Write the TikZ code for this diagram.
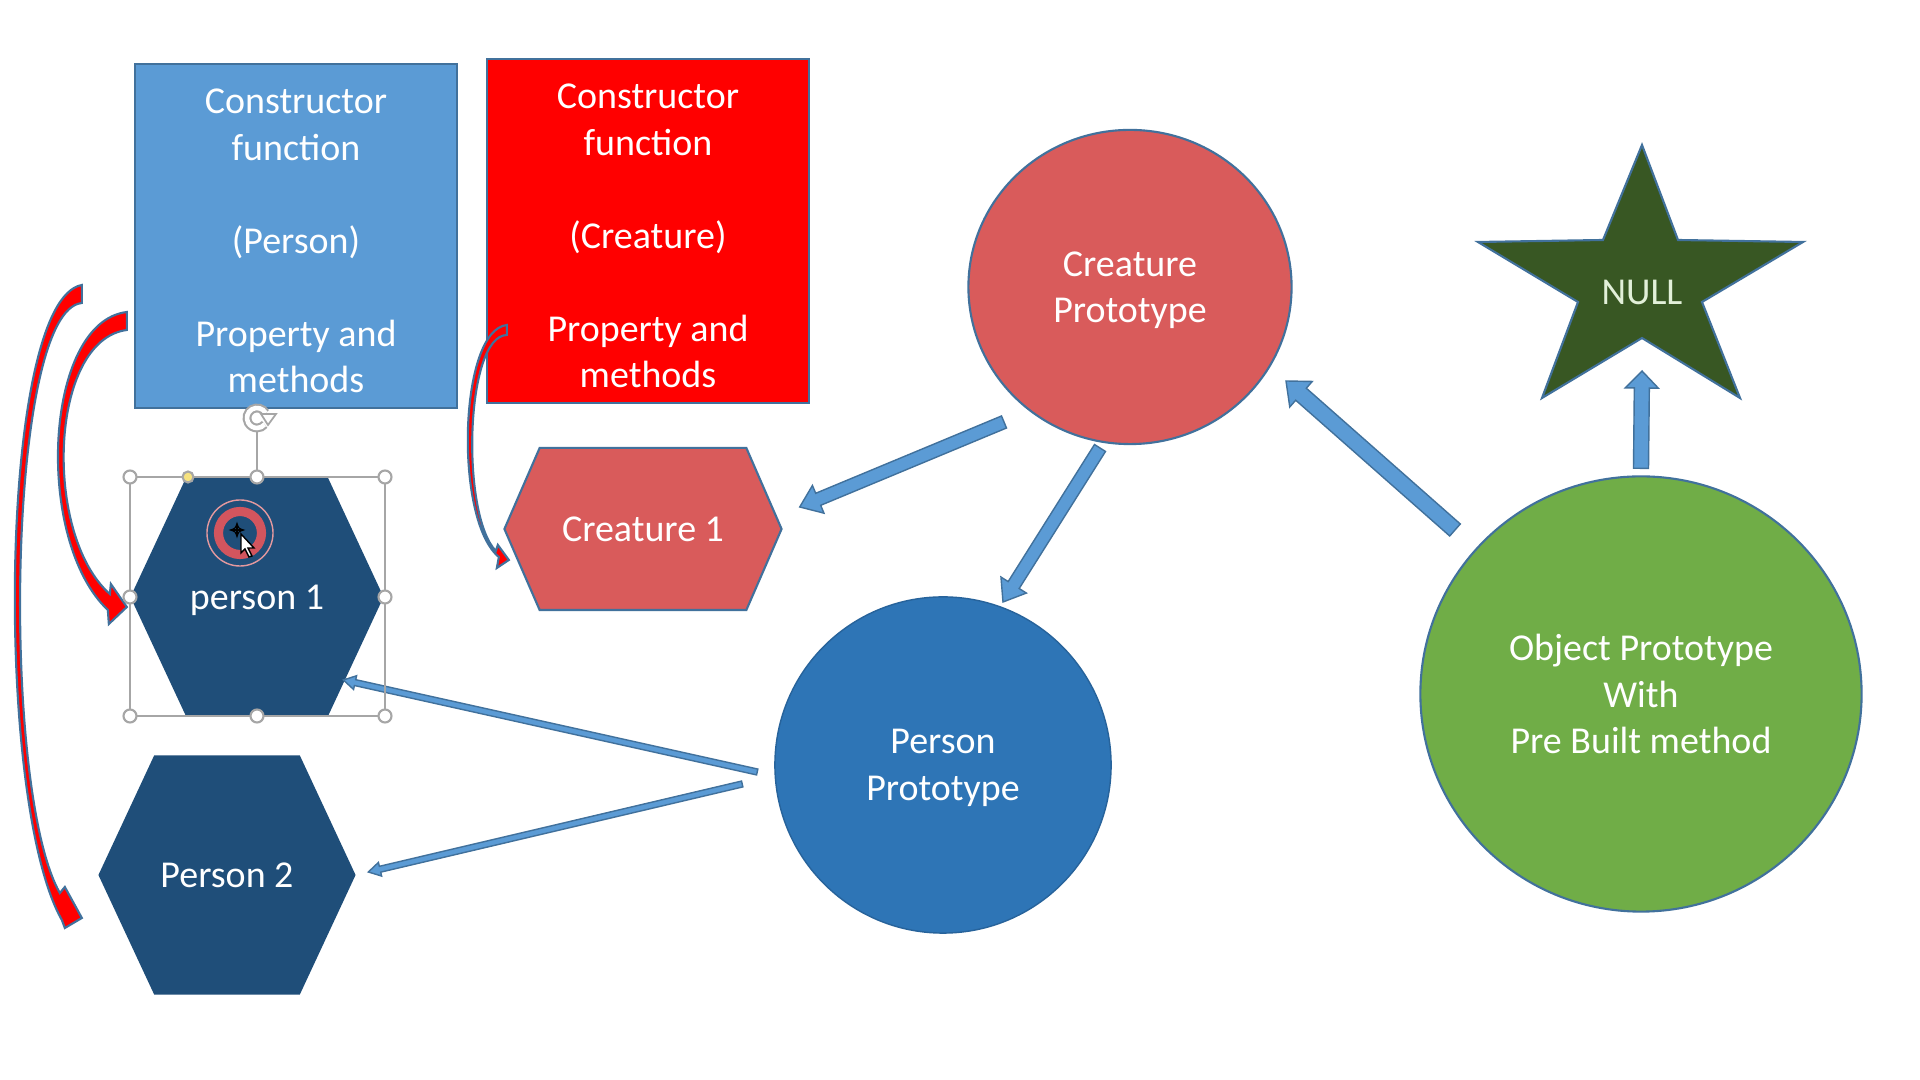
\documentclass[tikz,border=0pt]{standalone}
\usepackage{fontspec}
\setmainfont{Carlito}
\usetikzlibrary{arrows.meta,calc,shapes.geometric,shapes.symbols}
\definecolor{pptblue}{HTML}{5B9BD5}
\definecolor{pptline}{HTML}{41719C}
\definecolor{pptred}{HTML}{FF0000}
\definecolor{rosered}{HTML}{D95B5B}
\definecolor{navy}{HTML}{1F4E79}
\definecolor{midblue}{HTML}{2E75B6}
\definecolor{leafgreen}{HTML}{70AD47}
\definecolor{darkgreen}{HTML}{385723}
\definecolor{nulltext}{HTML}{E2F0D9}
\definecolor{handlegray}{HTML}{A6A6A6}
\definecolor{handleyellow}{HTML}{F6E27F}
\definecolor{ringred}{HTML}{D2555E}

% flat block arrow: from, to, half shaft, half head, head length
\newcommand{\blockarrow}[5]{%
  \coordinate (ba-base) at ($(#2)!#5!(#1)$);
  \draw[blockarrow] ($(#1)!#3!90:(#2)$) -- ($(ba-base)!#3!-90:(#1)$)
    -- ($(ba-base)!#4!-90:(#1)$) -- (#2) -- ($(ba-base)!#4!90:(#1)$)
    -- ($(ba-base)!#3!90:(#1)$) -- ($(#1)!#3!-90:(#2)$) -- cycle;
}
\newcommand{\topstrut}{\rule{0pt}{9.8pt}}

\begin{document}
\begin{tikzpicture}[x=0.01cm,y=-0.01cm,
  every node/.style={font=\fontsize{10.8}{13.2}\selectfont,text=white,align=center,
    inner sep=0pt,text depth=0pt},
  fnbox/.style={rectangle,draw=pptline,line width=0.6pt,minimum width=3.22cm,
    minimum height=3.43cm},
  hexbox/.style={signal,signal to=west and east,signal pointer angle=130},
  blockarrow/.style={draw=pptline,fill=pptblue,line width=0.4pt},
  redarrow/.style={draw=pptline,fill=pptred,line width=0.6pt},
  handle/.style={draw=handlegray,fill=white,line width=0.6pt},
  handleline/.style={draw=handlegray,line width=0.4pt}
]
\fill[white] (0,0) rectangle (1920,1080);
\useasboundingbox (0,0) rectangle (1920,1080);

\node[fnbox,fill=pptblue] (personfn) at (296,236)
  {\topstrut Constructor\\function\\[13.2pt](Person)\\[13.2pt]Property and\\methods};
\node[fnbox,fill=pptred] (creaturefn) at (648,231)
  {\topstrut Constructor\\function\\[13.2pt](Creature)\\[13.2pt]Property and\\methods};
\node[ellipse,draw=pptline,line width=0.6pt,fill=rosered,minimum width=3.23cm,
  minimum height=3.14cm] (creatureproto) at (1130,287) {Creature\\Prototype};
\node[hexbox,signal pointer angle=133,draw=pptline,line width=0.6pt,fill=rosered,
  minimum width=2.77cm,minimum height=1.62cm] (creatureone) at (643,529) {Creature 1};
\node[hexbox,fill=navy,minimum width=2.53cm,minimum height=2.39cm] (personone) at (257,597) {person 1};
\node[hexbox,fill=navy,minimum width=2.57cm,minimum height=2.39cm] (persontwo) at (227,875) {Person 2};
\node[circle,fill=midblue,draw=midblue!85!black,line width=0.4pt,minimum size=3.36cm]
  (personproto) at (943,765) {Person\\Prototype};
\node[ellipse,fill=leafgreen,draw=pptline,line width=0.6pt,minimum width=4.41cm,
  minimum height=4.35cm] (objectproto) at (1641,694) {Object Prototype\\With\\Pre Built method};

\filldraw[draw=pptline,fill=darkgreen,line width=0.6pt] (1642,145) -- (1678,240) -- (1803,242)
  -- (1702,302) -- (1740,398) -- (1642,338) -- (1542,398) -- (1578,302) -- (1478,242)
  -- (1603,240) -- cycle;
\node[text=nulltext] (null) at (1642,292) {NULL};
\coordinate (starbase) at (1642,338);

\coordinate (cp-c1-s) at ($(creatureproto.center)+(-126,135)$);
\coordinate (cp-c1-e) at ($(creatureone.east)+(17,-22)$);
\coordinate (cp-pp-s) at ($(creatureproto.center)+(-30,161)$);
\coordinate (cp-pp-e) at ($(personproto.center)+(60,-163)$);
\coordinate (op-cp-s) at ($(objectproto.center)+(-186,-164)$);
\coordinate (op-cp-e) at ($(creatureproto.center)+(156,94)$);
\coordinate (op-nl-s) at ($(objectproto.north)+(0,-7)$);
\coordinate (op-nl-e) at ($(starbase)+(0,33)$);
\coordinate (pp-p1-s) at ($(personproto.west)+(-17,7)$);
\coordinate (pp-p1-e) at ($(personone.east)+(-41,83)$);
\coordinate (pp-p2-s) at ($(personproto.west)+(-32,19)$);
\coordinate (pp-p2-e) at ($(persontwo.east)+(12,-3)$);

\blockarrow{cp-c1-s}{cp-c1-e}{0.065cm}{0.15cm}{0.2cm}
\blockarrow{cp-pp-s}{cp-pp-e}{0.065cm}{0.15cm}{0.2cm}
\blockarrow{op-cp-s}{op-cp-e}{0.08cm}{0.17cm}{0.2cm}
\blockarrow{op-nl-s}{op-nl-e}{0.075cm}{0.165cm}{0.17cm}
\blockarrow{pp-p1-s}{pp-p1-e}{0.03cm}{0.07cm}{0.12cm}
\blockarrow{pp-p2-s}{pp-p2-e}{0.03cm}{0.07cm}{0.12cm}

% curved red arrows out of the constructors
\begin{scope}[shift={(personfn.west)}]
  \draw[redarrow] (-7,76) .. controls (-90,86) and (-100,304) .. (-26,374) -- (-25,388)
    -- (-7,371) -- (-23,348) -- (-24,358) .. controls (-91,299) and (-85,104) .. (-7,94) -- cycle;
  \draw[redarrow] (-52,49) .. controls (-135,64) and (-140,564) .. (-72,684) -- (-69,692)
    -- (-52,682) -- (-69,651) -- (-74,657) .. controls (-133,554) and (-127,74) .. (-52,67) -- cycle;
\end{scope}
\begin{scope}[shift={(creaturefn.west)}]
  \draw[redarrow] (21,94) .. controls (-27,99) and (-32,289) .. (13,326) -- (11,337)
    -- (23,329) -- (12,314) -- (10,320) .. controls (-25,284) and (-21,105) .. (21,104) -- cycle;
\end{scope}

% selection frame round person 1
\draw[handleline] (130,477) rectangle (385,716);
\draw[handleline] (257,430) -- (257,477);
\draw[draw=handlegray,double=white,double distance=1.3pt,line width=0.6pt]
  (257,418) ++(30:0.1cm) arc[start angle=30,end angle=320,radius=0.1cm];
\filldraw[draw=handlegray,fill=white,line width=0.5pt] (261,414) -- (276,414) -- (268,425) -- cycle;
\foreach \p in {(130,477),(257,477),(385,477),(130,597),(385,597),(130,716),(257,716),(385,716)}
  \draw[handle] \p circle (0.065cm);
\draw[handle,fill=handleyellow] (188,477) circle (0.055cm);
\draw[ringred!60,line width=0.4pt] (240,533) circle (0.33cm);
\draw[ringred,line width=2.6pt] (240,533) circle (0.215cm);
\draw[black,line width=0.5pt,{Latex[length=2pt]}-{Latex[length=2pt]}] (228,530) -- (246,530);
\draw[black,line width=0.5pt,{Latex[length=2pt]}-{Latex[length=2pt]}] (237,521) -- (237,539);
\filldraw[draw=black,fill=white,line width=0.4pt] (241,534) -- (241,553) -- (245,549)
  -- (249,557) -- (252,556) -- (248,548) -- (254,548) -- cycle;
\end{tikzpicture}
\end{document}
